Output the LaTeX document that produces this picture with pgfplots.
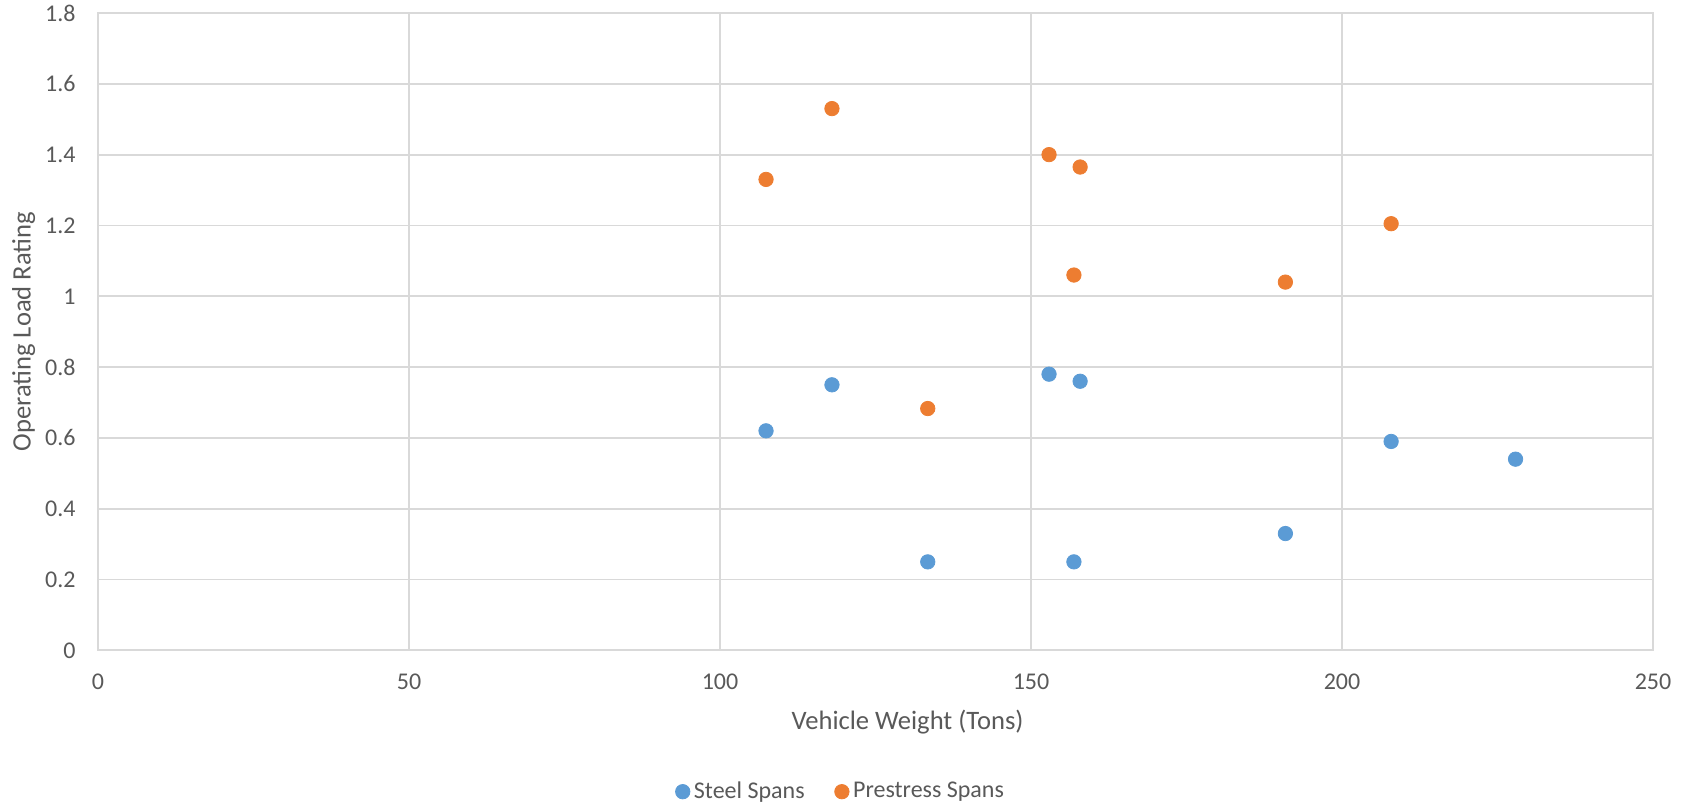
\documentclass[border=0pt]{standalone}
\usepackage{pgfplots}
\pgfplotsset{compat=1.18}
\usepackage{fontspec}
\setmainfont{Carlito}

\definecolor{steel}{HTML}{5B9BD5}
\definecolor{prestress}{HTML}{ED7D31}
\definecolor{gridgray}{HTML}{D9D9D9}
\definecolor{labelgray}{HTML}{595959}

\newcommand{\ticksize}{\fontsize{12}{14}\selectfont}
\newcommand{\titlesize}{\fontsize{13.3}{16}\selectfont}

\begin{document}
\begin{tikzpicture}
\useasboundingbox (-49pt,-77.8pt) rectangle (798pt,325.2pt);
\begin{axis}[
  at={(0,0)}, anchor=south west,
  scale only axis,
  width=777.5pt, height=318.7pt,
  xmin=0, xmax=250, ymin=0, ymax=1.8,
  xtick={0,50,100,150,200,250},
  ytick={0,0.2,0.4,0.6,0.8,1,1.2,1.4,1.6,1.8},
  grid=major,
  major grid style={gridgray, line width=0.9pt},
  axis line style={gridgray, line width=0.9pt},
  major tick length=0pt,
  tick style={draw=none},
  /pgf/number format/assume math mode=true,
  tick label style={font=\ticksize, text=labelgray},
  xticklabel style={anchor=base, yshift=-19.45pt},
  yticklabel style={anchor=east, inner xsep=0pt, xshift=-11pt},
  xlabel={Vehicle Weight (Tons)},
  ylabel={Operating Load Rating},
  xlabel style={at={(rel axis cs:0.5206,0)}, anchor=base, yshift=-39.5pt,
                font=\titlesize, text=labelgray},
  % the label is already turned by 90 degrees, so yshift moves it leftwards
  ylabel style={at={(rel axis cs:0,0.5)}, anchor=base,
                yshift=33.7pt, font=\titlesize, text=labelgray},
  legend style={at={(rel axis cs:0.4783,-0.2217)}, anchor=center,
                draw=none, fill=none, legend columns=-1,
                font=\ticksize, text=labelgray,
                /tikz/every even column/.append style={column sep=13pt}},
  legend image code/.code={%
    \draw[mark repeat=2, mark phase=2, #1]
      plot coordinates {(0pt,0pt) (3.5pt,0pt) (7pt,0pt)};},
]
% steel girder spans
\addplot[only marks, mark=*, mark size=3.6pt, draw=steel, fill=steel]
  coordinates {
    (107.4,0.62) (118,0.75) (133.4,0.25) (152.9,0.78) (156.9,0.25)
    (157.9,0.76) (190.9,0.33) (207.9,0.59) (227.9,0.54)
  };
\addlegendentry{Steel Spans}
% prestressed concrete spans
\addplot[only marks, mark=*, mark size=3.6pt, draw=prestress, fill=prestress]
  coordinates {
    (107.4,1.33) (118,1.53) (133.4,0.683) (152.9,1.40) (156.9,1.06)
    (157.9,1.365) (190.9,1.04) (207.9,1.205)
  };
\addlegendentry{Prestress Spans}
\end{axis}
\end{tikzpicture}
\end{document}
